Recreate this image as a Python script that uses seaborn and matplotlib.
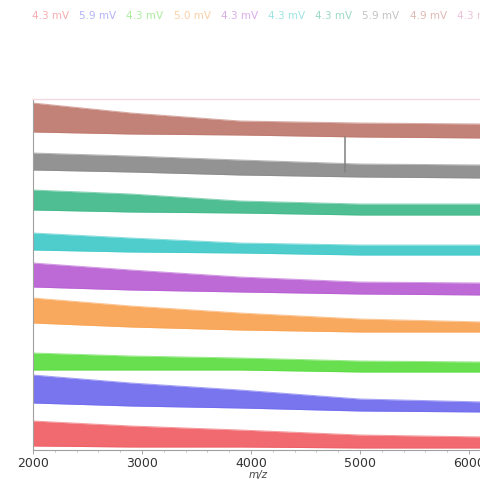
import numpy as np
import pandas as pd
import seaborn as sns
from matplotlib import pyplot as plt
from matplotlib.ticker import MultipleLocator

sns.set_style("white")

mz = [2000, 2900, 3900, 5000, 6150]

# traces, bottom to top (stack offsets already included, a.u.)
names = ["red", "blue", "green", "orange", "purple", "cyan", "teal", "gray", "brown"]
colors = ["#ef5a5f", "#6a66ee", "#56dc3c", "#f9a04c", "#b65ad2",
          "#3cc8c8", "#3cb787", "#878787", "#bd7468"]
upper = [
    [29, 24, 20, 15, 13],
    [75, 67, 60, 51, 48],
    [97, 94, 92, 89, 88],
    [152, 144, 137, 131, 128],
    [187, 180, 173, 168, 167],
    [217, 212, 207, 205, 205],
    [260, 256, 249, 246, 246],
    [297, 294, 290, 286, 285],
    [347, 337, 329, 327, 326],
]
lower = [
    [4, 3, 3, 2, 2],
    [47, 44, 42, 39, 38],
    [80, 80, 80, 78, 78],
    [127, 123, 120, 118, 118],
    [163, 160, 158, 156, 155],
    [200, 198, 197, 195, 195],
    [240, 238, 237, 235, 235],
    [280, 278, 275, 273, 272],
    [318, 316, 315, 313, 312],
]

# single peak visible in the gray trace
peak_mz = [4860, 4860]
peak_y = [278, 313]

# header: laser levels, listed bottom trace first
header_mv = ["4.3 mV", "5.9 mV", "4.3 mV", "5.0 mV", "4.3 mV",
             "4.3 mV", "4.3 mV", "5.9 mV", "4.9 mV", "4.3 mV"]
header_colors = colors + ["#d987b4"]

rows = []
for n, up, lo in zip(names, upper, lower):
    for m, u, l in zip(mz, up, lo):
        rows.append({"trace": n, "mz": m, "upper": u, "lower": l})
df = pd.DataFrame(rows)
pal = dict(zip(names, colors))

fig = plt.figure(figsize=(4.81, 4.86), dpi=100)
ax = fig.add_axes([33 / 481, 36 / 486, 450 / 481, 351 / 486])

for n, c in zip(names, colors):
    d = df[df.trace == n]
    ax.fill_between(d.mz, d.lower, d.upper, color=c, alpha=0.9, lw=0)
for edge in ["upper", "lower"]:
    sns.lineplot(data=df, x="mz", y=edge, hue="trace", palette=pal,
                 legend=False, lw=0.7, alpha=0.6, ax=ax)
sns.lineplot(x=peak_mz, y=peak_y, color="#808080", lw=1.1,
             estimator=None, sort=False, ax=ax)

ax.set_xlim(2000, 6128)
ax.set_ylim(0, 351)
ax.set_yticks([])
ax.xaxis.set_major_locator(MultipleLocator(1000))
ax.xaxis.set_minor_locator(MultipleLocator(200))
ax.tick_params(axis="x", which="major", bottom=True, length=3, width=0.6,
               color="#999999", labelsize=9, labelcolor="#333333", pad=2)
ax.tick_params(axis="x", which="minor", bottom=True, length=1.5, width=0.5, color="#aaaaaa")
ax.set_xlabel("m/z", fontsize=7.5, style="italic", color="#444444", labelpad=0)
ax.set_ylabel("")

for s in ["left", "bottom"]:
    ax.spines[s].set_color("#a0a0a0")
    ax.spines[s].set_linewidth(0.8)
ax.spines["top"].set_color("#f4d8df")
ax.spines["top"].set_linewidth(1.0)
ax.spines["right"].set_visible(False)

for i, (t, c) in enumerate(zip(header_mv, header_colors)):
    fig.text((32 + 47.2 * i) / 481, 1 - 16 / 486, t, color=c, alpha=0.5,
             fontsize=7.5, ha="left", va="center")

fig.savefig("out.png", dpi=100)
